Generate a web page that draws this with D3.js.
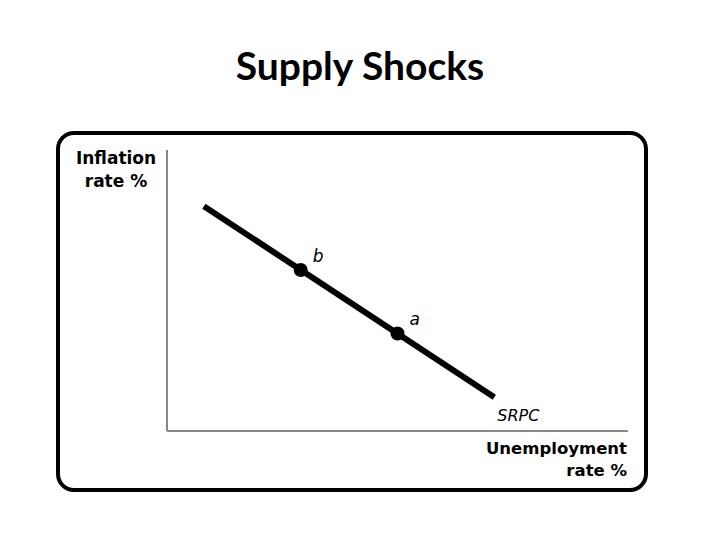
<!DOCTYPE html>
<html><head><meta charset="utf-8">
<script src="https://cdn.jsdelivr.net/npm/d3@7"></script>
<style>body{margin:0;background:#fff}</style>
</head><body>
<svg id="c" width="720" height="540"></svg>
<script>
const title = "Supply Shocks";
const curveName = "SRPC";
const curvePoints = [{u:0.8, inf:8.0},{u:7.1, inf:1.2}];
const pointLabels = ["b","a"];
const pointU = [2.9, 5.0];
const pointInf = [5.73, 3.47];
const yLabel = ["Inflation","rate %"];
const xLabel = ["Unemployment","rate %"];

const svg = d3.select("#c");
svg.append("text").attr("x",360).attr("y",80).attr("text-anchor","middle")
  .attr("font-family","Lato, 'Open Sans', sans-serif").attr("font-weight","bold")
  .attr("font-size",39).text(title);

svg.append("rect").attr("x",58).attr("y",133).attr("width",588).attr("height",357)
  .attr("rx",16).attr("fill","none").attr("stroke","#000").attr("stroke-width",4);

const x = d3.scaleLinear().domain([0,10]).range([167,628]);
const y = d3.scaleLinear().domain([0,10]).range([431,150]);

svg.append("line").attr("x1",x(0)).attr("x2",x(0)).attr("y1",y(10)).attr("y2",y(0))
  .attr("stroke","#888").attr("stroke-width",2);
svg.append("line").attr("x1",x(0)).attr("x2",x(10)).attr("y1",y(0)).attr("y2",y(0))
  .attr("stroke","#888").attr("stroke-width",2);

const line = d3.line().x(d=>x(d.u)).y(d=>y(d.inf));
svg.append("path").datum(curvePoints).attr("d",line).attr("fill","none")
  .attr("stroke","#000").attr("stroke-width",6);

pointU.forEach((u,i)=>{
  svg.append("circle").attr("cx",x(u)).attr("cy",y(pointInf[i])).attr("r",7).attr("fill","#000");
  svg.append("text").attr("x",x(u)+12).attr("y",y(pointInf[i])-8)
    .attr("font-family","'DejaVu Sans', sans-serif").attr("font-style","italic")
    .attr("font-size",17).text(pointLabels[i]);
});
const last = curvePoints[curvePoints.length-1];
svg.append("text").attr("x",x(last.u)+3).attr("y",y(last.inf)+24)
  .attr("font-family","'DejaVu Sans', sans-serif").attr("font-style","italic")
  .attr("font-size",16).text(curveName);

const lf = "'DejaVu Sans', sans-serif";
yLabel.forEach((t,i)=>{
  svg.append("text").attr("x",116).attr("y",164+i*23).attr("text-anchor","middle")
    .attr("font-family",lf).attr("font-weight","bold").attr("font-size",17).text(t);
});
xLabel.forEach((t,i)=>{
  svg.append("text").attr("x",627).attr("y",454+i*22).attr("text-anchor","end")
    .attr("font-family",lf).attr("font-weight","bold").attr("font-size",16.5).text(t);
});
</script>
</body></html>
